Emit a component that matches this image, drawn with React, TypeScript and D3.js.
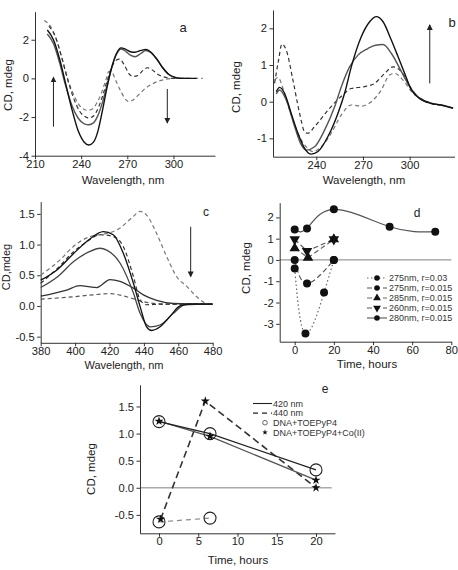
import React, { useEffect, useRef } from 'react';
import * as d3 from 'd3';

type Pt = [number, number];

const FONT = 'Liberation Sans, Arial, sans-serif';

// --- panel a: DNA region, 210-320 nm ---
const aSolidDeep: Pt[] = [[218, 2.5], [222, 2.0], [226, 1.0], [230, -0.3], [234, -1.6], [238, -2.7], [242, -3.3], [245, -3.45], [248, -3.3], [251, -2.7], [254, -1.6], [257, -0.4], [260, 0.6], [263, 1.3], [266, 1.58], [269, 1.5], [272, 1.38], [275, 1.35], [279, 1.45], [282, 1.5], [285, 1.38], [289, 1.02], [293, 0.55], [297, 0.2], [301, 0.05], [305, 0], [310, 0], [315, 0]];
const aSolidMid: Pt[] = [[218, 2.3], [222, 1.8], [226, 0.8], [230, -0.4], [234, -1.4], [238, -2.05], [242, -2.35], [245, -2.4], [248, -2.3], [251, -1.9], [254, -1.2], [257, -0.3], [260, 0.6], [263, 1.25], [266, 1.52], [269, 1.4], [272, 1.2], [275, 1.12], [279, 1.3], [282, 1.44], [285, 1.35], [289, 1.0], [293, 0.55], [297, 0.2], [301, 0.05], [305, 0], [310, 0]];
const aDashA: Pt[] = [[219, 2.7], [223, 2.2], [227, 1.2], [231, 0.0], [235, -1.0], [239, -1.7], [243, -2.0], [245, -2.05], [248, -1.95], [251, -1.55], [254, -0.9], [257, -0.1], [260, 0.6], [263, 0.95], [265, 1.0], [268, 0.7], [271, 0.25], [274, 0.1], [277, 0.15], [280, 0.4], [283, 0.55], [286, 0.45], [290, 0.2], [295, 0.05], [300, 0], [305, 0]];
const aDashB: Pt[] = [[216, 3.0], [220, 2.7], [224, 2.0], [228, 0.9], [232, -0.2], [236, -1.0], [240, -1.5], [244, -1.65], [247, -1.6], [250, -1.3], [253, -0.8], [256, -0.1], [258, 0.35], [260, 0.3], [263, -0.2], [266, -0.7], [269, -1.1], [271, -1.2], [274, -1.1], [278, -0.8], [282, -0.5], [286, -0.3], [290, -0.15], [295, -0.05], [300, 0], [310, 0], [319, 0]];

// --- panel b ---
const bSolidTall: Pt[] = [[214.3, 0.27], [216.4, 0.39], [219.6, 0.23], [223.9, -0.32], [228.2, -0.86], [232.5, -1.27], [236.8, -1.43], [241.1, -1.36], [247.5, -0.95], [253.9, -0.32], [258.2, 0.23], [262.5, 0.95], [268.9, 1.77], [274.3, 2.18], [278.6, 2.32], [282.9, 2.18], [288.2, 1.68], [292.5, 1.23], [296.8, 0.77], [301.1, 0.32], [306.4, 0.09], [313.9, -0.05], [320.4, -0.09], [327.9, -0.18]];
const bSolidLow: Pt[] = [[214.3, 0.21], [216.4, 0.32], [220.7, 0.05], [226.1, -0.68], [230.4, -1.18], [233.6, -1.32], [238.9, -1.23], [245.4, -0.77], [251.8, -0.14], [256.1, 0.41], [261.4, 0.95], [266.8, 1.27], [273.2, 1.45], [278, 1.54], [282.9, 1.56], [288.2, 1.32], [293.6, 0.91], [300.0, 0.41], [306.4, 0.09], [313.9, -0.04], [320.4, -0.1], [327.9, -0.17]];
const bDashHigh: Pt[] = [[213.2, 0.5], [215.8, 1.14], [217.9, 1.57], [220.7, 1.41], [225, 0.59], [229.3, -0.32], [232.5, -0.82], [234.6, -0.86], [238.9, -0.68], [247.5, -0.23], [255.9, 0.14], [262.5, 0.36], [271.1, 0.41], [277.5, 0.5], [283.9, 0.77], [289.3, 0.95], [294.6, 0.82], [301.1, 0.36], [306.4, 0.09], [313.9, -0.05], [321, -0.11]];
const bDashLow: Pt[] = [[213.2, 0.59], [215.4, 0.66], [218.6, 0.36], [222.9, -0.23], [228.2, -0.86], [233.6, -1.23], [237.9, -1.36], [243.2, -1.23], [249.6, -0.86], [256.1, -0.36], [262.5, -0.09], [268.9, -0.12], [275.4, 0], [281.8, 0.32], [287.1, 0.73], [290.4, 0.77], [295.7, 0.59], [302.1, 0.23], [308.6, 0.06], [314, -0.04], [321, -0.1]];

// --- panel c: Soret band ---
const cDashShift: Pt[] = [[380, 0.505], [391.2, 0.75], [399, 0.97], [408.7, 1.13], [416.4, 1.17], [421, 1.2], [426.1, 1.27], [433.9, 1.46], [437.8, 1.54], [441.6, 1.48], [447.4, 1.18], [453.3, 0.8], [459, 0.48], [464.9, 0.32], [470.7, 0.15], [476.5, 0.04], [480, 0.03]];
const cDashMid: Pt[] = [[380, 0.37], [390, 0.62], [399, 0.88], [407, 1.05], [414.5, 1.16], [422.2, 1.13], [428, 0.97], [433.9, 0.48], [437.8, 0.1], [441.6, 0.02], [450, 0.03], [480, 0.03]];
const cDashFlat: Pt[] = [[380, 0.11], [399, 0.15], [410, 0.18], [420.3, 0.2], [430, 0.15], [439.7, 0.07], [453, 0.03], [480, 0.04]];
const cSolidHigh: Pt[] = [[380, 0.42], [390, 0.6], [399, 0.85], [408, 1.08], [416.4, 1.21], [422.2, 1.16], [428, 0.86], [433.9, 0.37], [437.8, -0.01], [441.6, -0.34], [444.5, -0.4], [449.4, -0.34], [455.2, -0.17], [461, 0], [466.8, 0.03], [480, 0.03]];
const cSolidMid: Pt[] = [[380, 0.3], [390, 0.48], [399, 0.72], [408, 0.88], [414.5, 0.94], [418.4, 0.91], [426.1, 0.7], [433.9, 0.21], [437.8, -0.12], [443.6, -0.34], [449.4, -0.31], [457.1, -0.12], [463.9, 0.02], [480, 0.03]];
const cSolidLow: Pt[] = [[380, 0.16], [395.1, 0.26], [402.9, 0.33], [408.7, 0.31], [412.6, 0.3], [420.3, 0.43], [426.1, 0.4], [433.9, 0.29], [439.7, 0.18], [447.4, 0.09], [457, 0.04], [480, 0.03]];

// --- panel d: kinetics ---
const d275r03: Pt[] = [[0, -0.4], [5.5, -3.45], [15, -1.53], [20, 0]];
const d275r015: Pt[] = [[0, 0], [6.3, -1.1], [20, 0]];
const d285r015: Pt[] = [[0, 0.55], [6.8, 0.11], [20, 0.97]];
const d260r015: Pt[] = [[0, 0.97], [6.3, 0.42], [20, 0.97]];
const d280r015: Pt[] = [[0, 1.43], [6.3, 1.48], [20, 2.38], [48.5, 1.56], [71.8, 1.33]];
const dLegend = ['275nm, r=0.03', '275nm, r=0.015', '285nm, r=0.015', '260nm, r=0.015', '280nm, r=0.015'];

// --- panel e ---
const e420Porph: Pt[] = [[0, 1.22], [6.5, 1.0], [20, 0.33]];
const e420Co: Pt[] = [[0, 1.23], [6.5, 0.95], [20, 0.14]];
const e440Porph: Pt[] = [[0, -0.63], [6.5, -0.56]];
const e440Co: Pt[] = [[0.2, -0.58], [5.9, 1.6], [20, 0.0]];
const eLegend = ['420 nm', '440 nm', 'DNA+TOEPyP4', 'DNA+TOEPyP4+Co(II)'];

interface AxisOpt {
  xMajor: number[]; xMinor: number[]; yMajor: number[]; yMinor: number[];
  xFmt: (d: number) => string; yFmt: (d: number) => string;
}

function drawAxes(svg: any, x: any, y: any, o: AxisOpt) {
  const y0 = y.range()[0];
  const x0 = x.range()[0];
  const bottom = svg.append('g').attr('transform', `translate(0,${y0})`);
  bottom.call(d3.axisBottom(x).tickValues(o.xMinor).tickSize(2).tickSizeOuter(0).tickFormat(() => ''));
  bottom.call(d3.axisBottom(x).tickValues(o.xMajor).tickSize(3.5).tickSizeOuter(0).tickPadding(0.5).tickFormat(o.xFmt as any));
  const left = svg.append('g').attr('transform', `translate(${x0},0)`);
  left.call(d3.axisLeft(y).tickValues(o.yMinor).tickSize(2).tickSizeOuter(0).tickFormat(() => ''));
  left.call(d3.axisLeft(y).tickValues(o.yMajor).tickSize(3.5).tickSizeOuter(0).tickPadding(2.5).tickFormat(o.yFmt as any));
  [bottom, left].forEach(g => {
    g.attr('font-size', 11.2).attr('font-family', FONT);
    g.selectAll('text').attr('fill', '#222');
    g.selectAll('line, path').attr('stroke', '#333');
  });
}

function label(svg: any, text: string, x: number, y: number, rot = false, size = 11.5) {
  const t = svg.append('text')
    .attr('font-family', FONT).attr('font-size', size).attr('fill', '#222')
    .attr('text-anchor', 'middle').text(text);
  if (rot) t.attr('transform', `translate(${x},${y}) rotate(-90)`);
  else t.attr('x', x).attr('y', y);
}

function curve(svg: any, x: any, y: any, pts: Pt[], color: string, width: number, dash: string | null, kind: any = d3.curveMonotoneX) {
  const line = d3.line<Pt>().x(d => x(d[0])).y(d => y(d[1])).curve(kind);
  svg.append('path').datum(pts)
    .attr('fill', 'none').attr('stroke', color).attr('stroke-width', width)
    .attr('stroke-dasharray', dash).attr('stroke-linejoin', 'round')
    .attr('d', line);
}

function arrow(svg: any, x: any, y: any, xv: number, from: number, to: number) {
  svg.append('line')
    .attr('x1', x(xv)).attr('x2', x(xv)).attr('y1', y(from)).attr('y2', y(to))
    .attr('stroke', '#222').attr('stroke-width', 1)
    .attr('marker-end', 'url(#arr)');
}

const intFmt = (d: number) => String(d);
const oneFmt = (d: number) => d.toFixed(1);

export default function App() {
  const ref = useRef<SVGSVGElement>(null);

  useEffect(() => {
    const svg = d3.select(ref.current);
    svg.selectAll('*').remove();

    svg.append('defs').append('marker')
      .attr('id', 'arr').attr('markerUnits', 'userSpaceOnUse')
      .attr('markerWidth', 6).attr('markerHeight', 7).attr('refX', 5).attr('refY', 3)
      .attr('orient', 'auto')
      .append('path').attr('d', 'M0,0 L6,3 L0,6 Z').attr('fill', '#222');

    // panel a
    const xa = d3.scaleLinear().domain([210, 327]).range([35, 215]);
    const ya = d3.scaleLinear().domain([-4, 3.45]).range([155.7, 11.7]);
    drawAxes(svg, xa, ya, {
      xMajor: [210, 240, 270, 300], xMinor: [220, 230, 250, 260, 280, 290, 310, 320],
      yMajor: [-4, -2, 0, 2], yMinor: [-3, -1, 1, 3], xFmt: intFmt, yFmt: intFmt,
    });
    curve(svg, xa, ya, aDashB, '#777', 1.2, '4,3');
    curve(svg, xa, ya, aDashA, '#333', 1.2, '4,3');
    curve(svg, xa, ya, aSolidMid, '#555', 1.4, null);
    curve(svg, xa, ya, aSolidDeep, '#111', 1.4, null);
    arrow(svg, xa, ya, 222, -2.5, 0.05);
    arrow(svg, xa, ya, 296, -0.55, -2.3);
    label(svg, 'a', 183, 32, false, 13);
    label(svg, 'CD, mdeg', 12, 85, true);
    label(svg, 'Wavelength, nm', 123, 184);

    // panel b
    const xb = d3.scaleLinear().domain([212.2, 328.8]).range([273, 454.5]);
    const yb = d3.scaleLinear().domain([-1.5, 2.5]).range([156.7, 10]);
    drawAxes(svg, xb, yb, {
      xMajor: [240, 270, 300], xMinor: [220, 230, 250, 260, 280, 290, 310, 320],
      yMajor: [-1, 0, 1, 2], yMinor: [-0.5, 0.5, 1.5], xFmt: intFmt, yFmt: intFmt,
    });
    curve(svg, xb, yb, bDashLow, '#777', 1.2, '4,3');
    curve(svg, xb, yb, bDashHigh, '#333', 1.2, '4,3');
    curve(svg, xb, yb, bSolidLow, '#555', 1.4, null);
    curve(svg, xb, yb, bSolidTall, '#111', 1.4, null);
    arrow(svg, xb, yb, 312.9, 0.5, 2.09);
    label(svg, 'b', 452, 27, false, 13);
    label(svg, 'CD, mdeg', 240, 87, true);
    label(svg, 'Wavelength, nm', 364, 184);

    // panel c
    const xc = d3.scaleLinear().domain([380, 480]).range([40.7, 212.7]);
    const yc = d3.scaleLinear().domain([-0.6, 1.7]).range([342.8, 201.6]);
    drawAxes(svg, xc, yc, {
      xMajor: [380, 400, 420, 440, 460, 480], xMinor: [390, 410, 430, 450, 470],
      yMajor: [-0.5, 0, 0.5, 1, 1.5], yMinor: [-0.25, 0.25, 0.75, 1.25], xFmt: intFmt, yFmt: oneFmt,
    });
    curve(svg, xc, yc, cDashShift, '#777', 1.2, '4,3');
    curve(svg, xc, yc, cDashFlat, '#555', 1.2, '4,3');
    curve(svg, xc, yc, cDashMid, '#333', 1.2, '4,3');
    curve(svg, xc, yc, cSolidLow, '#333', 1.3, null);
    curve(svg, xc, yc, cSolidMid, '#444', 1.3, null);
    curve(svg, xc, yc, cSolidHigh, '#111', 1.3, null);
    arrow(svg, xc, yc, 467.2, 1.29, 0.48);
    label(svg, 'c', 206, 216, false, 12);
    label(svg, 'CD,mdeg', 10, 267, true, 11);
    label(svg, 'Wavelength, nm', 124, 368.5, false, 11);

    // panel d
    const xd = d3.scaleLinear().domain([-7.66, 80]).range([279.7, 451.3]);
    const yd = d3.scaleLinear().domain([-3.84, 2.69]).range([341.7, 202.7]);
    svg.append('line').attr('x1', xd(-7.66)).attr('x2', xd(80)).attr('y1', yd(0)).attr('y2', yd(0))
      .attr('stroke', '#999').attr('stroke-width', 1.3);
    drawAxes(svg, xd, yd, {
      xMajor: [0, 20, 40, 60, 80], xMinor: [10, 30, 50, 70],
      yMajor: [-3, -2, -1, 0, 1, 2], yMinor: [-3.5, -2.5, -1.5, -0.5, 0.5, 1.5, 2.5], xFmt: intFmt, yFmt: intFmt,
    });
    const dSeries: { pts: Pt[]; dash: string | null; sym: string; kind: any; color: string }[] = [
      { pts: d275r03, dash: '1.5,2.5', sym: 'circle', kind: d3.curveNatural, color: '#666' },
      { pts: d275r015, dash: '5,3', sym: 'circle', kind: d3.curveNatural, color: '#555' },
      { pts: d285r015, dash: '5,3', sym: 'up', kind: d3.curveLinear, color: '#666' },
      { pts: d260r015, dash: '5,3', sym: 'down', kind: d3.curveLinear, color: '#555' },
      { pts: d280r015, dash: null, sym: 'circle', kind: d3.curveNatural, color: '#555' },
    ];
    const tri = d3.symbol().type(d3.symbolTriangle).size(48);
    const triSmall = d3.symbol().type(d3.symbolTriangle).size(26);
    const putSym = (sym: string, cx: number, cy: number, small: boolean) => {
      if (sym === 'circle') {
        svg.append('circle').attr('cx', cx).attr('cy', cy).attr('r', small ? 2.8 : 4).attr('fill', '#111');
      } else {
        svg.append('path').attr('d', (small ? triSmall : tri)() as string).attr('fill', '#111')
          .attr('transform', `translate(${cx},${cy})${sym === 'down' ? ' rotate(180)' : ''}`);
      }
    };
    dSeries.forEach(s => curve(svg, xd, yd, s.pts, s.color, 1.2, s.dash, s.kind));
    dSeries.forEach(s => s.pts.forEach(p => putSym(s.sym, xd(p[0]), yd(p[1]), false)));
    dLegend.forEach((name, i) => {
      const ly = 278 + i * 10;
      const s = dSeries[i];
      svg.append('line').attr('x1', 367).attr('x2', 387).attr('y1', ly).attr('y2', ly)
        .attr('stroke', s.color).attr('stroke-width', 1.1).attr('stroke-dasharray', s.dash);
      putSym(s.sym, 377, ly, true);
      svg.append('text').attr('x', 389).attr('y', ly + 3.3)
        .attr('font-family', FONT).attr('font-size', 9).attr('fill', '#333').text(name);
    });
    label(svg, 'd', 417, 217, false, 12);
    label(svg, 'CD, mdeg', 250, 268, true);
    label(svg, 'Time, hours', 367, 367.5);

    // panel e
    const xe = d3.scaleLinear().domain([-2.42, 22.42]).range([140, 335]);
    const ye = d3.scaleLinear().domain([-0.84, 1.9]).range([533.3, 384.8]);
    svg.append('line').attr('x1', xe(-2.42)).attr('x2', xe(22)).attr('y1', ye(0)).attr('y2', ye(0))
      .attr('stroke', '#aaa').attr('stroke-width', 1.5);
    drawAxes(svg, xe, ye, {
      xMajor: [0, 5, 10, 15, 20], xMinor: [2.5, 7.5, 12.5, 17.5],
      yMajor: [-0.5, 0, 0.5, 1, 1.5], yMinor: [-0.75, -0.25, 0.25, 0.75, 1.25, 1.75], xFmt: intFmt, yFmt: oneFmt,
    });
    curve(svg, xe, ye, e440Porph, '#888', 1.2, '5,4', d3.curveLinear);
    curve(svg, xe, ye, e440Co, '#333', 1.6, '7,4', d3.curveLinear);
    curve(svg, xe, ye, e420Co, '#555', 1.3, null, d3.curveLinear);
    curve(svg, xe, ye, e420Porph, '#222', 1.3, null, d3.curveLinear);
    const star = d3.symbol().type(d3.symbolStar).size(26);
    const starSmall = d3.symbol().type(d3.symbolStar).size(10);
    [...e420Porph, ...e440Porph].forEach(p => {
      svg.append('circle').attr('cx', xe(p[0])).attr('cy', ye(p[1])).attr('r', 6)
        .attr('fill', 'none').attr('stroke', '#222').attr('stroke-width', 1.1);
    });
    [...e420Co, ...e440Co].forEach(p => {
      svg.append('path').attr('d', star() as string).attr('fill', '#111')
        .attr('transform', `translate(${xe(p[0])},${ye(p[1])})`);
    });
    eLegend.forEach((name, i) => {
      const ly = 403.5 + i * 9.6;
      if (i === 0) svg.append('line').attr('x1', 253).attr('x2', 272).attr('y1', ly).attr('y2', ly)
        .attr('stroke', '#222').attr('stroke-width', 1.1);
      if (i === 1) svg.append('line').attr('x1', 253).attr('x2', 272).attr('y1', ly).attr('y2', ly)
        .attr('stroke', '#222').attr('stroke-width', 1.3).attr('stroke-dasharray', '5,4');
      if (i === 2) svg.append('circle').attr('cx', 265).attr('cy', ly).attr('r', 2.3)
        .attr('fill', 'none').attr('stroke', '#555').attr('stroke-width', 0.9);
      if (i === 3) svg.append('path').attr('d', starSmall() as string).attr('fill', '#111')
        .attr('transform', `translate(265,${ly})`);
      svg.append('text').attr('x', 273).attr('y', ly + 3.3)
        .attr('font-family', FONT).attr('font-size', 9).attr('fill', '#333').text(name);
    });
    label(svg, 'e', 325, 393, false, 12);
    label(svg, 'CD, mdeg', 95, 469, true);
    label(svg, 'Time, hours', 238, 564);
  }, []);

  return (
    <svg ref={ref} width={458} height={570}
      style={{ position: 'absolute', left: 0, top: 0, background: '#fff' }} />
  );
}
